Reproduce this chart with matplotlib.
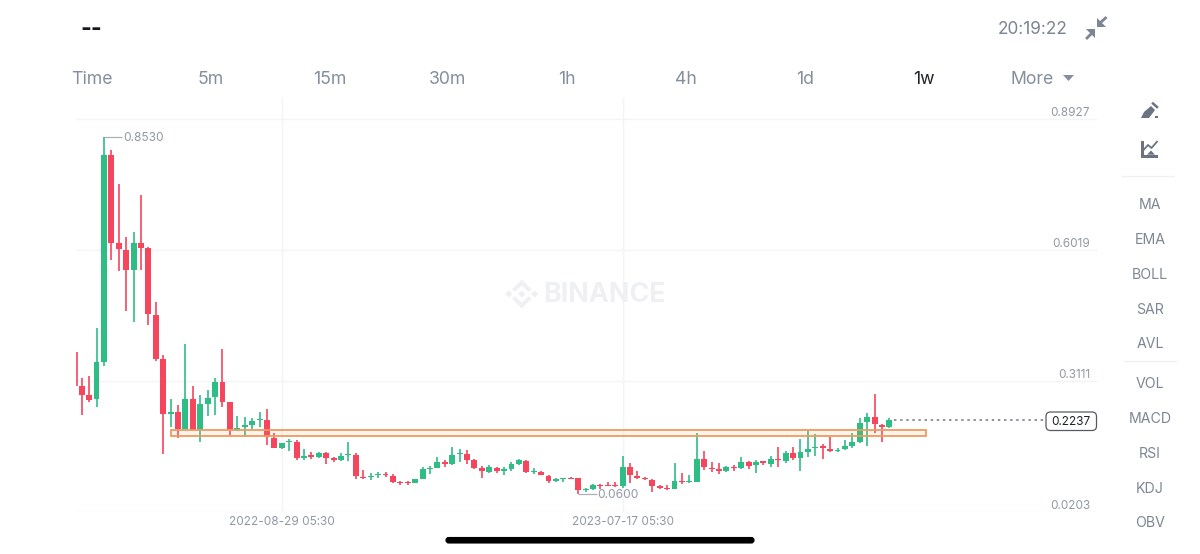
import matplotlib
matplotlib.use("Agg")
import matplotlib.pyplot as plt
from matplotlib.patches import Rectangle, Polygon, FancyBboxPatch
import numpy as np

plt.rcParams['font.family'] = ['Inter', 'DejaVu Sans']

# ---------- data ----------
opens = [.3000,.2793,.2704,.3533,.8135,.6167,.6026,.5575,.6182,.6063,
         .4583,.3592,.2371,.2415,.2053,.2719,.2023,.2600,.2748,.3081,
         .2637,.2023,.2097,.2127,.2245,.2245,.1853,.1623,.1757,.1764,
         .1409,.1468,.1416,.1512,.1394,.1364,.1468,.1475,.0987,.0972,
         .1024,.1046,.1009,.0869,.0861,.0846,.0935,.1165,.1187,.1320,
         .1261,.1498,.1490,.1357,.1172,.1098,.1187,.1120,.1165,.1268,
         .1342,.1098,.1098,.1009,.0898,.0928,.0957,.0950,.0683,.0713,
         .0809,.0809,.0802,.0787,.1209,.1009,.0965,.0920,.0772,.0743,
         .0713,.0898,.0869,.0876,.1379,.1187,.1165,.1113,.1194,.1187,
         .1313,.1239,.1327,.1276,.1379,.1342,.1505,.1394,.1542,.1623,
         .1660,.1601,.1564,.1594,.1675,.1764,.2193,.2312,.2134,.2090]
closes = [.2793,.2689,.3525,.8135,.6174,.6034,.5575,.6174,.6071,.4598,
          .3599,.2371,.2415,.2053,.2719,.2023,.2600,.2734,.3081,.2645,
          .2023,.2075,.2127,.2230,.2274,.1875,.1631,.1727,.1786,.1394,
          .1453,.1431,.1505,.1409,.1364,.1446,.1490,.0994,.0965,.1009,
          .1046,.1024,.0869,.0846,.0846,.0928,.1150,.1187,.1320,.1268,
          .1468,.1520,.1364,.1179,.1113,.1194,.1113,.1150,.1261,.1350,
          .1091,.1120,.1024,.0891,.0928,.0957,.0935,.0683,.0706,.0809,
          .0787,.0787,.0780,.1209,.1024,.0957,.0935,.0780,.0743,.0713,
          .0883,.0869,.0891,.1372,.1194,.1150,.1105,.1194,.1172,.1305,
          .1231,.1320,.1298,.1379,.1357,.1505,.1394,.1527,.1601,.1653,
          .1623,.1564,.1586,.1668,.1764,.2178,.2312,.2149,.2097,.2237]
highs = [.3170,.3229,.4280,.8530,.8239,.7477,.6308,.6426,.7233,.6078,
         .4872,.3695,.2704,.2578,.3932,.3007,.2793,.2911,.3177,.3814,
         .2645,.2334,.2304,.2282,.2415,.2497,.1964,.1742,.1816,.1801,
         .1594,.1542,.1542,.1527,.1424,.1520,.1764,.1520,.1135,.1061,
         .1098,.1091,.1039,.0891,.0898,.0935,.1194,.1231,.1431,.1357,
         .1653,.1594,.1579,.1387,.1224,.1239,.1209,.1209,.1305,.1379,
         .1350,.1187,.1105,.1024,.0965,.0965,.0987,.0957,.0735,.0824,
         .0824,.0876,.0869,.1446,.1283,.1120,.0987,.0935,.0795,.0809,
         .1283,.1061,.1024,.1964,.1564,.1305,.1283,.1216,.1239,.1416,
         .1335,.1357,.1342,.1446,.1638,.1564,.1638,.1816,.2008,.1927,
         .1705,.1860,.1631,.1801,.1949,.2282,.2393,.2815,.2149,.2282]
lows = [.2363,.2637,.2526,.3451,.5797,.5553,.4665,.4428,.5575,.4354,
        .3562,.1483,.2090,.1853,.2038,.2008,.1764,.2334,.2356,.2541,
        .1905,.2008,.1875,.2038,.2090,.1697,.1623,.1609,.1549,.1357,
        .1357,.1372,.1394,.1261,.1313,.1335,.1342,.0928,.0928,.0906,
        .0965,.0987,.0854,.0795,.0809,.0839,.0928,.1054,.1172,.1209,
        .1246,.1320,.1261,.1150,.0965,.1076,.1068,.1031,.1120,.1246,
        .1061,.1039,.1017,.0839,.0876,.0869,.0928,.0600,.0639,.0691,
        .0721,.0772,.0765,.0728,.0854,.0935,.0913,.0647,.0713,.0698,
        .0706,.0824,.0854,.0869,.1135,.1098,.1054,.1098,.1120,.1150,
        .1150,.1076,.1246,.1194,.1209,.1283,.1357,.1113,.1416,.1446,
        .1387,.1527,.1527,.1579,.1616,.1727,.1668,.1949,.1764,.2060]
clipped_first_high = .3762
clipped_first_low = .3000
y_ticks = [.8927, .6019, .3111, .0203]
y_labels = ['0.8927', '0.6019', '0.3111', '0.0203']
x_ticks = [27, 73]
x_labels = ['2022-08-29 05:30', '2023-07-17 05:30']
zone_low, zone_high = .1897, .2023
zone_start, zone_end = 12.0, 113.9
tabs = ['Time', '5m', '15m', '30m', '1h', '4h', '1d', '1w', 'More']
tab_x = [92, 211, 330, 448, 567, 686, 805, 924, 1032]
menu = ['MA', 'EMA', 'BOLL', 'SAR', 'AVL', 'VOL', 'MACD', 'RSI', 'KDJ', 'OBV']
menu_y = [205, 240, 275, 310, 344, 384, 419, 454, 489, 523]

GREEN, RED = '#2EBD85', '#F6465D'
GRID = '#F3F4F6'
AXTXT = '#9299A4'
TAB = '#858E9C'

W, H = 1200, 554
fig = plt.figure(figsize=(W/100, H/100), dpi=100, facecolor='white')

# pixel calibration of the chart area
L, R, T, B = 76, 1097, 98, 512
ax = fig.add_axes([L/W, 1-B/H, (R-L)/W, (B-T)/H], facecolor='none')
pxn = lambda p: (p-81.7)/7.41
ax.set_xlim(pxn(L), pxn(R))
per_px = (.8927-.0203)/393.0
ax.set_ylim(.0203, .0203+(B-T)*per_px)
for s in ax.spines.values():
    s.set_visible(False)

ax.set_yticks(y_ticks, y_labels)
ax.yaxis.tick_right()
ax.tick_params(axis='y', length=0, pad=-5, labelsize=8.5, labelcolor=AXTXT)
for lb in ax.get_yticklabels():
    lb.set_ha('right')
    lb.set_va('bottom')
ax.set_xticks(x_ticks, x_labels)
ax.tick_params(axis='x', length=0, pad=3, labelsize=8.5, labelcolor=AXTXT)
ax.grid(True, color=GRID, lw=1)
ax.set_axisbelow(True)

# candles
idx = np.arange(len(opens))
op, cl, hi, lo = map(np.array, (opens, closes, highs, lows))
cols = np.where(cl >= op, GREEN, RED)
ax.vlines(idx, lo, hi, colors=cols, lw=1.2, zorder=3)
ax.bar(idx, np.maximum(np.abs(cl-op), .0012), bottom=np.minimum(op, cl), width=0.8,
       color=cols, lw=0, zorder=4)
ax.vlines(pxn(76.6), clipped_first_low, clipped_first_high, colors=RED, lw=1.2, zorder=3)

# support zone
ax.add_patch(Rectangle((zone_start, zone_low), zone_end-zone_start, zone_high-zone_low,
                       fc=(0.96, 0.60, 0.32, 0.10), ec='#EF9A60', lw=1.3, zorder=5))

# last price dotted line
ax.hlines(closes[-1], 109.6, pxn(1045), colors='#6F7783', lw=1.1, linestyles=(0, (1.6, 2.4)), zorder=2)

# high / low marks
hi_i = int(np.argmax(hi)); lo_i = int(np.argmin(lo))
for i, v, txt in ((hi_i, hi[hi_i], f'{hi[hi_i]:.4f}'), (lo_i, lo[lo_i], f'{lo[lo_i]:.4f}')):
    ax.hlines(v, i, i+2.5, colors='#A9B0BA', lw=0.9, zorder=2)
    ax.annotate(txt, xy=(i, v), xytext=(14, -0.9), textcoords='offset points', ha='left', va='center',
                fontsize=8.6, color=AXTXT)

# ---------- screen chrome in pixel coordinates ----------
ov = fig.add_axes([0, 0, 1, 1], facecolor='none')
ov.set_xlim(0, W); ov.set_ylim(H, 0); ov.axis('off')

ov.text(91, 30, '--', fontsize=16.5, fontweight='bold', color='#14171C', ha='center', va='center')
ov.text(1032.5, 30, '20:19:22', fontsize=12.4, color='#7B8491', ha='center', va='center')
for t, x in zip(tabs, tab_x):
    ov.text(x, 79.5, t, fontsize=12.7, color='#1E2329' if t == '1w' else TAB, ha='center', va='center')
ov.add_patch(Polygon([(1063, 75), (1074, 75), (1068.5, 81)], fc=TAB, lw=0))

for t, y in zip(menu, menu_y):
    txt = ov.text(1150, y, t, fontsize=10.2, color='#7F8793', ha='center', va='center')
    if t == 'OBV':
        clip = Rectangle((1120, 510), 60, 17, transform=ov.transData)
        txt.set_clip_path(clip)
ov.plot([1122, 1174], [175.7, 175.7], color='#EEF0F3', lw=1)
ov.plot([1124, 1176], [361, 361], color='#EEF0F3', lw=1)

ICON = '#6B7382'
# compress icon
ov.add_patch(Polygon([(1097, 27), (1097, 18), (1106, 27)], fc='#7D8593', lw=0))
ov.plot([1100, 1105.5], [23, 18], color='#7D8593', lw=2)
ov.add_patch(Polygon([(1095, 29), (1086, 29), (1095, 38)], fc='#7D8593', lw=0))
ov.plot([1092, 1087], [33, 38], color='#7D8593', lw=2)
# pencil icon
ov.add_patch(Polygon([(1141, 118), (1144, 112), (1151, 106), (1155, 110), (1149, 118)], fc=ICON, lw=0))
ov.plot([1153, 1157], [103.5, 107], color=ICON, lw=1.8)
ov.add_patch(Rectangle((1155, 115.5), 3, 2.5, fc=ICON, lw=0))
# indicator icon
ov.add_patch(Rectangle((1141, 141), 2.7, 17, fc=ICON, lw=0))
ov.add_patch(Rectangle((1141, 154.7), 17, 3.3, fc=ICON, lw=0))
ov.plot([1143.5, 1148, 1151.5, 1157], [150, 145, 148, 141.7], color=ICON, lw=1.3)
ov.add_patch(Polygon([(1151, 150.5), (1147, 154.7), (1155, 154.7)], fc=ICON, lw=0))

# watermark
WM = '#EFF0F2'
cx0, cy0 = 521.7, 294
for dx in (-13, 0, 13):
    s = 3.6
    ov.add_patch(Polygon([(cx0+dx-s, cy0), (cx0+dx, cy0-s), (cx0+dx+s, cy0), (cx0+dx, cy0+s)], fc=WM, lw=0))
for sgn in (-1, 1):
    ov.add_patch(Polygon([(cx0, cy0+sgn*14.5), (cx0-9.7, cy0+sgn*4.8), (cx0-6.7, cy0+sgn*2.0),
                          (cx0, cy0+sgn*8.6), (cx0+6.7, cy0+sgn*2.0), (cx0+9.7, cy0+sgn*4.8)], fc=WM, lw=0))
ov.text(605, 295.5, 'BINANCE', fontsize=19.4, fontweight='bold', color=WM, ha='center', va='center')

# home indicator
ov.add_patch(FancyBboxPatch((446, 537.5), 308, 5.5, boxstyle='round,pad=0,rounding_size=2.7',
                            fc='#000000', ec='#000000', lw=0.8))

# current price badge
ov.add_patch(FancyBboxPatch((1046, 412), 50.5, 18.5, boxstyle='round,pad=0,rounding_size=4.5',
                            fc='white', ec='#565B63', lw=0.9))
ov.text(1071, 422, f'{closes[-1]:.4f}', fontsize=8.5, color='#1E2329', ha='center', va='center')

fig.savefig('out.png', dpi=100, facecolor='white')
